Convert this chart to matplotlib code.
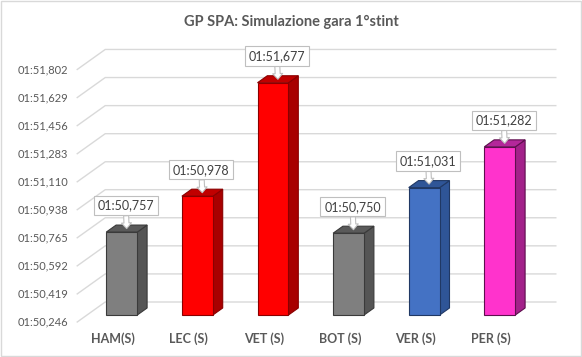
import matplotlib
matplotlib.use('Agg')
import matplotlib.pyplot as plt
from matplotlib.patches import Polygon, Rectangle

plt.rcParams['font.family'] = ['Lato', 'DejaVu Sans']

# data (lap times, mm:ss,ms)
drivers = ['HAM(S)', 'LEC (S)', 'VET (S)', 'BOT (S)', 'VER (S)', 'PER (S)']
lap_times = ['01:50,757', '01:50,978', '01:51,677', '01:50,750', '01:51,031', '01:51,282']
tick_labels = ['01:50,246', '01:50,419', '01:50,592', '01:50,765', '01:50,938',
               '01:51,110', '01:51,283', '01:51,456', '01:51,629', '01:51,802']

front_colors = ['#7f7f7f', '#ff0000', '#ff0000', '#7f7f7f', '#4472c4', '#ff33cc']
side_colors = ['#555555', '#a80000', '#a80000', '#555555', '#2f5597', '#a3218a']
top_colors = ['#5a5a5a', '#c00000', '#c00000', '#5a5a5a', '#2f5597', '#b3279a']
edge_colors = ['#3a3a3a', '#8a0000', '#8a0000', '#3a3a3a', '#203864', '#5e0f4e']


def to_sec(s):
    m, rest = s.split(':')
    return int(m) * 60 + float(rest.replace(',', '.'))


values = [to_sec(t) for t in lap_times]
ticks = [to_sec(t) for t in tick_labels]
ymin = ticks[0]

# fake 3d: depth shifts things right and up
DX = 28 / 75.6
DY = 20 / 162.3
d0, d1 = 0.35, 0.70   # bar front / back depth
w = 0.205             # half bar width
XL, XR = -0.46, 5.50  # floor / wall extent


def proj(x, y, d):
    return (x + DX * d, y + DY * d)


fig = plt.figure(figsize=(5.82, 3.57), dpi=100)
ax = fig.add_axes([0, 0, 1, 1])
ax.set_xlim(-112 / 75.6, (582 - 112) / 75.6)
ax.set_ylim(ymin - 35 / 162.3, ymin + 322 / 162.3)
ax.axis('off')

grid_c = '#d9d9d9'
for t, lab in zip(ticks, tick_labels):
    a = proj(XL, t, 0)
    b = proj(XL, t, 1)
    c = proj(XR, t, 1)
    ax.plot([a[0], b[0], c[0]], [a[1], b[1], c[1]], color=grid_c, lw=1, zorder=1)
    ax.annotate(lab, a, xytext=(-9, 0), textcoords='offset pixels',
                ha='right', va='center', fontsize=8, color='#595959')

for i, (v, name) in enumerate(zip(values, drivers)):
    front = [proj(i - w, ymin, d0), proj(i + w, ymin, d0), proj(i + w, v, d0), proj(i - w, v, d0)]
    side = [proj(i + w, ymin, d0), proj(i + w, ymin, d1), proj(i + w, v, d1), proj(i + w, v, d0)]
    top = [proj(i - w, v, d0), proj(i + w, v, d0), proj(i + w, v, d1), proj(i - w, v, d1)]
    for pts, fc in [(side, side_colors[i]), (top, top_colors[i]), (front, front_colors[i])]:
        ax.add_patch(Polygon(pts, closed=True, fc=fc, ec=edge_colors[i], lw=0.8, zorder=3))

    ax.annotate(name, proj(i, ymin, 0), xytext=(1, -17), textcoords='offset pixels',
                ha='center', va='center', fontsize=9, fontweight='bold', color='#595959')

    tip = proj(i, v, (d0 + d1) / 2)
    ax.annotate(lap_times[i], tip, xytext=(-1, 23), textcoords='offset pixels',
                ha='center', va='center', fontsize=9, color='#404040', zorder=5,
                bbox=dict(boxstyle='square,pad=0.3', fc='white', ec='#bfbfbf', lw=0.8),
                arrowprops=dict(arrowstyle='simple,head_length=0.45,head_width=0.8,tail_width=0.4',
                                fc='white', ec='#bfbfbf', lw=0.8, shrinkA=0, shrinkB=0))

fig.text(0.5, 1 - 22 / 357, 'GP SPA: Simulazione gara 1°stint', ha='center', va='center',
         fontsize=10.5, fontweight='bold', color='#595959')
fig.add_artist(Rectangle((0.001, 0.002), 0.997, 0.995, transform=fig.transFigure,
                         fill=False, ec='#d9d9d9', lw=1))

fig.savefig('out.png', dpi=100)
